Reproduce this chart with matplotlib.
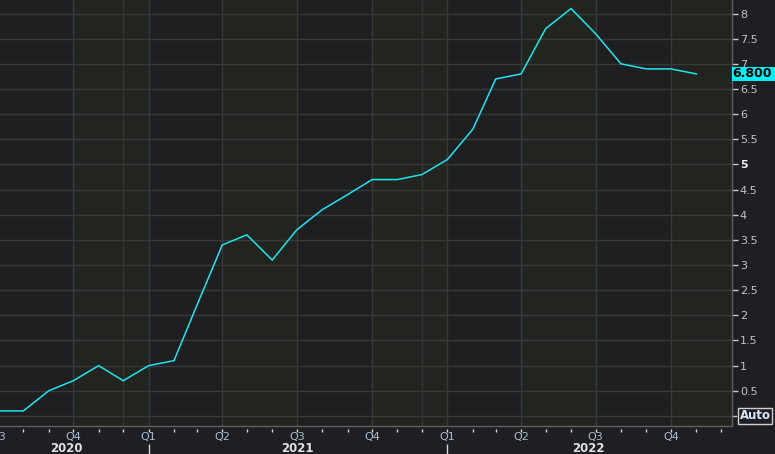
import matplotlib
matplotlib.use("Agg")
import matplotlib.pyplot as plt
import matplotlib.dates as mdates
from matplotlib.patches import Rectangle
import numpy as np
import pandas as pd

# ---- data ----
months = pd.date_range("2020-07-01", "2022-11-01", freq="MS")
values = [0.1, 0.1, 0.5, 0.7, 1.0, 0.7,
          1.0, 1.1, 2.2, 3.4, 3.6, 3.1, 3.7, 4.1, 4.4, 4.7, 4.7, 4.8,
          5.1, 5.7, 6.7, 6.8, 7.7, 8.1, 7.6, 7.0, 6.9, 6.9, 6.8]
last_label = "6.800"
y_ticks = [0.5, 1, 1.5, 2, 2.5, 3, 3.5, 4, 4.5, 5, 5.5, 6, 6.5, 7, 7.5, 8]
y_tick_labels = ["0.5", "1", "1.5", "2", "2.5", "3", "3.5", "4", "4.5", "5",
                 "5.5", "6", "6.5", "7", "7.5", "8"]
quarter_starts = pd.date_range("2020-07-01", "2022-10-01", freq="QS")
quarter_labels = ["Q%d" % ((d.month - 1) // 3 + 1) for d in quarter_starts]
year_labels = ["2020", "2021", "2022"]
year_label_dates = pd.to_datetime(["2020-09-22", "2021-07-02", "2022-06-22"])
year_starts = pd.to_datetime(["2021-01-01", "2022-01-01"])
shaded_quarters = pd.to_datetime(["2020-10-01", "2021-04-01", "2021-10-01",
                                  "2022-04-01", "2022-10-01"])
extra_vlines = pd.to_datetime(["2020-12-01", "2021-12-01"])
minor_ticks = pd.date_range("2020-08-01", "2022-12-01", freq="MS")

# ---- style ----
BG = "#1f1e22"
AXBG = "#1f1f22"
BAND = "#22251f"
GRID = "#38393a"
LINE = "#1fe5ee"
TXT = "#c4c4c4"
XTXT = "#a9bdd3"

W, H = 775, 454
AXW = 731.5
fig = plt.figure(figsize=(W / 100, H / 100), dpi=100, facecolor=BG)
ax = fig.add_axes([0, (H - 426) / H, AXW / W, 426 / H])
ax.set_facecolor(AXBG)

x0 = pd.Timestamp("2020-07-03 12:00")
x1 = pd.Timestamp("2022-12-14")
ax.set_xlim(x0, x1)
ax.set_ylim(-0.2, 8.27)

for q in shaded_quarters:
    ax.axvspan(q, q + pd.offsets.QuarterBegin(startingMonth=1),
               color=BAND, lw=0, zorder=0)

for yv in [0] + y_ticks:
    ax.axhline(yv, color=GRID, lw=1, zorder=1)
for q in quarter_starts[1:]:
    ax.axvline(q, color=GRID, lw=1, zorder=1)
for d in extra_vlines:
    ax.axvline(d, color=GRID, lw=1, zorder=1, alpha=0.8)

ax.plot(months, values, color=LINE, lw=1.1, zorder=3, solid_joinstyle="miter")

# spines
for s in ["top", "left"]:
    ax.spines[s].set_visible(False)
for s in ["bottom", "right"]:
    ax.spines[s].set_color("#5e5e5e")
    ax.spines[s].set_linewidth(1)

# y axis on right
ax.yaxis.tick_right()
ax.set_yticks(y_ticks)
ax.set_yticklabels(y_tick_labels)
ax.tick_params(axis="y", which="major", direction="out", length=4, width=1,
               color="#c8c8c8", pad=2, labelsize=8, labelcolor=TXT)
for lab in ax.get_yticklabels():
    if lab.get_text() == "5":
        lab.set_color("#f0f0f0")
        lab.set_fontweight("bold")

yt = ax.get_yaxis_transform()
# zero tick + Auto box
ax.plot([1.0, 1.0 + 5 / AXW], [0, 0], transform=yt,
        color="#c8c8c8", lw=1, clip_on=False)
ax.text(1.0 + 8 / AXW, 0, "Auto", transform=yt,
        ha="left", va="center", fontsize=8.5, fontweight="bold", color="#dce6f5",
        bbox=dict(boxstyle="square,pad=0.12", fc=BG, ec="#d0d0d0", lw=1),
        clip_on=False)

# last value label
box_h = 14 / 50.3
ax.add_patch(Rectangle((1.0, values[-1] - box_h / 2), (W - AXW) / AXW, box_h,
                       transform=yt, fc="#00f0f8", ec="none", clip_on=False,
                       zorder=5))
ax.text(1.0 + 1 / AXW, values[-1], last_label, transform=yt,
        ha="left", va="center", fontsize=9, fontweight="bold", color="#000000",
        clip_on=False, zorder=6)

# x axis: manual ticks and labels
ax.set_xticks([])
ax.tick_params(axis="x", which="both", length=0)
xt = ax.get_xaxis_transform()
ax.vlines(minor_ticks, -3 / 426, -6 / 426, transform=xt, color="#d8d8d8", lw=1,
          clip_on=False)
ax.vlines(year_starts, -18 / 426, -30 / 426, transform=xt, color="#d8d8d8", lw=1,
          clip_on=False)
for d, lab in zip(quarter_starts, quarter_labels):
    ax.text(d, -11 / 426, lab, transform=xt, ha="center", va="center",
            fontsize=8, color=XTXT, clip_on=False)
for d, lab in zip(year_label_dates, year_labels):
    ax.text(d, -22 / 426, lab, transform=xt, ha="center", va="center",
            fontsize=8.5, fontweight="bold", color="#e2e2e2", clip_on=False)

fig.savefig("out.png", dpi=100, facecolor=BG)
